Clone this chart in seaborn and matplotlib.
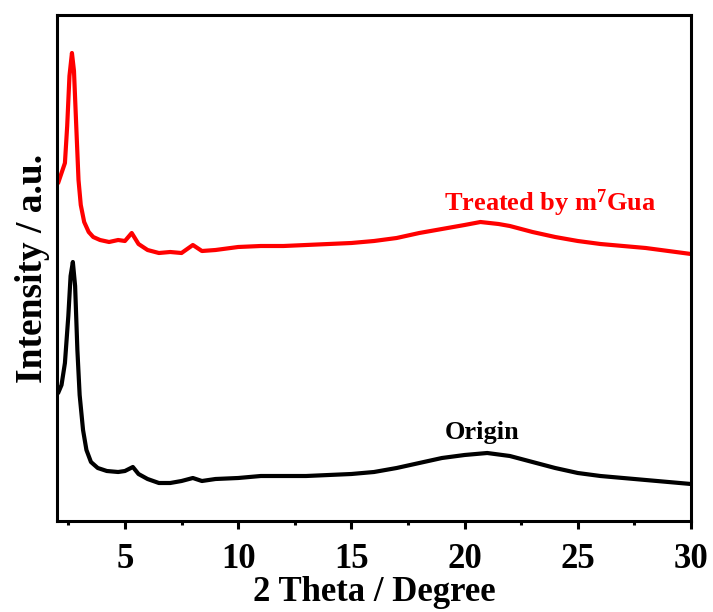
import matplotlib
matplotlib.use("Agg")
import matplotlib.pyplot as plt
import seaborn as sns
import pandas as pd
from matplotlib.ticker import MultipleLocator

# ---- data (intensity in arbitrary units) ----
treated_x = [2.05, 2.2, 2.35, 2.45, 2.55, 2.66, 2.75, 2.85, 2.95, 3.05, 3.2, 3.4,
             3.6, 3.9, 4.3, 4.7, 5.0, 5.3, 5.6, 6.0, 6.5, 7.0, 7.5, 8.0, 8.4, 9.0,
             10, 11, 12, 13, 14, 15, 16, 17, 18, 19, 20, 20.7, 21.5, 22, 23, 24,
             25, 26, 27, 28, 29, 30]
treated_y = [338, 348, 358, 395, 445, 468, 450, 395, 341, 316, 299, 289,
             284, 281, 279, 281, 280, 288, 277, 271, 268, 269, 268, 276, 270, 271,
             274, 275, 275, 276, 277, 278, 280, 283, 288, 292, 296, 299, 297, 295, 289, 284,
             280, 277, 275, 273, 270, 267]

origin_x = [2.05, 2.2, 2.35, 2.5, 2.6, 2.7, 2.8, 2.9, 3.0, 3.15, 3.3, 3.5,
            3.8, 4.2, 4.7, 5.0, 5.35, 5.6, 6.0, 6.5, 7.0, 7.5, 8.0, 8.4, 9.0,
            10, 11, 12, 13, 14, 15, 16, 17, 18, 19, 20, 21, 22, 23, 24,
            25, 26, 27, 28, 29, 30]
origin_y = [128, 136, 158, 205, 245, 259, 235, 171, 126, 91, 71, 59,
            53, 50, 49, 50, 54, 47, 42, 38, 38, 40, 43, 40, 42,
            43, 45, 45, 45, 46, 47, 49, 53, 58, 63, 66, 68, 65, 59, 53,
            48, 45, 43, 41, 39, 37]

labels = ["Treated by m$^{7}$Gua", "Origin"]
xticks = [5, 10, 15, 20, 25, 30]

df = pd.concat([
    pd.DataFrame({"theta": treated_x, "intensity": treated_y, "sample": labels[0]}),
    pd.DataFrame({"theta": origin_x, "intensity": origin_y, "sample": labels[1]}),
])

sns.set_style("ticks")
plt.rcParams["font.family"] = ["Liberation Serif", "DejaVu Serif"]
plt.rcParams["font.weight"] = "bold"
plt.rcParams["text.color"] = "black"
plt.rcParams["axes.labelcolor"] = "black"
plt.rcParams["xtick.color"] = "black"
plt.rcParams["ytick.color"] = "black"
plt.rcParams["mathtext.fontset"] = "custom"
plt.rcParams["mathtext.rm"] = "Liberation Serif:bold"
plt.rcParams["mathtext.bf"] = "Liberation Serif:bold"
plt.rcParams["mathtext.it"] = "Liberation Serif:bold"

fig = plt.figure(figsize=(7.13, 6.12), dpi=100)
ax = fig.add_axes([57 / 713, 1 - 521 / 612, (691 - 57) / 713, (521 - 15) / 612])

sns.lineplot(data=df, x="theta", y="intensity", hue="sample",
             palette={labels[0]: "#ff0000", labels[1]: "#000000"},
             linewidth=3.0, legend=False, ax=ax, sort=False, estimator=None)

ax.set_xlim(2, 30)
ax.set_ylim(0, 506)
ax.set_xticks(xticks)
ax.xaxis.set_minor_locator(MultipleLocator(2.5))
ax.set_yticks([])

for s in ax.spines.values():
    s.set_linewidth(2.2)
    s.set_color("black")
    s.set_visible(True)

ax.tick_params(axis="x", which="major", direction="out", length=6, width=2.2,
               labelsize=25, pad=10, color="black", labelcolor="black")
ax.tick_params(axis="x", which="minor", direction="out", length=3, width=2.2, color="black")

ax.set_xlabel("2 Theta / Degree", fontsize=25, fontweight="bold", labelpad=0, color="black")
ax.set_ylabel("Intensity / a.u.", fontsize=27, fontweight="bold", labelpad=5, color="black")

ax.text(23.78, 318, labels[0], color="#ff0000", fontsize=19, fontweight="bold",
        ha="center", va="center")
ax.text(20.77, 88, labels[1], color="#000000", fontsize=19, fontweight="bold",
        ha="center", va="center")

fig.savefig("out.png", dpi=100)
